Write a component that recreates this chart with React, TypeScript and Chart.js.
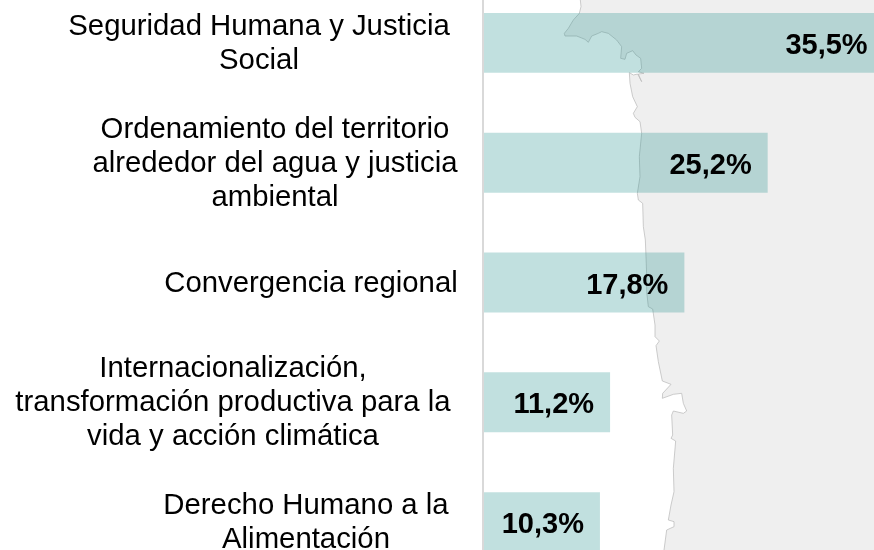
import React, { useEffect, useRef } from "react";
import { Chart, registerables } from "chart.js";

Chart.register(...registerables);

const categories: string[][] = [
  ["Seguridad Humana y Justicia", "Social"],
  ["Ordenamiento del territorio", "alrededor del agua y justicia", "ambiental"],
  ["Convergencia regional"],
  ["Internacionalización,", "transformación productiva para la", "vida y acción climática"],
  ["Derecho Humano a la", "Alimentación"],
];
const values = [35.5, 25.2, 17.8, 11.2, 10.3];
const valueLabels = ["35,5%", "25,2%", "17,8%", "11,2%", "10,3%"];
const labelCentres = [259, 275, 311, 233, 306];

const CANVAS_TOP = -30;
const z1 = [[331,0],[333,20],[328,40],[310,60],[295,85],[283,100],[285,108],[320,108],[345,118],[355,127],[365,108],[385,100],[395,95],[415,100],[440,120],[455,140],[452,175],[465,178],[470,160],[488,152],[498,165],[512,175],[515,205],[505,215],[522,220],[505,222],[515,245],[503,222],[490,225],[478,218],[480,250],[488,290],[502,320],[490,340],[495,352],[510,365],[515,400],[508,470],[510,530],[502,580],[505,600],[518,610],[520,680],[526,720],[528,770],[530,825]];
const z2 = [[530,50],[535,95],[548,102],[555,150],[555,185],[568,198],[558,212],[565,260],[577,318],[603,328],[578,355],[577,370],[610,358],[635,355],[640,385],[650,408],[640,415],[610,408],[605,420],[608,480],[603,490],[617,498],[610,580],[612,650],[603,690],[595,735],[612,740],[612,755],[590,765],[582,825]];
const coast = [
  ...z1.map(([x, y]) => [470 + x / 3, y / 3]),
  ...z2.map(([x, y]) => [470 + x / 3, 275 + y / 3]),
];

const backdrop = {
  id: "backdrop",
  beforeDatasetsDraw(chart: any) {
    const c = chart.ctx;
    c.save();
    c.translate(0, -CANVAS_TOP);
    c.beginPath();
    coast.forEach(([x, y], i) => (i ? c.lineTo(x, y) : c.moveTo(x, y)));
    c.lineTo(coast[coast.length - 1][0], 600);
    c.lineTo(940, 600);
    c.lineTo(940, -40);
    c.lineTo(coast[0][0], -40);
    c.closePath();
    c.fillStyle = "#efefef";
    c.fill();
    c.beginPath();
    coast.forEach(([x, y], i) => (i ? c.lineTo(x, y) : c.moveTo(x, y)));
    c.strokeStyle = "#b8b8b8";
    c.lineWidth = 0.7;
    c.stroke();
    c.fillStyle = "#d9d9d9";
    c.fillRect(chart.chartArea.left - 2, -40, 2, 640);
    c.restore();
  },
};

const texts = {
  id: "texts",
  afterDatasetsDraw(chart: any) {
    const c = chart.ctx;
    const y = chart.scales.y;
    const x = chart.scales.x;
    c.save();
    c.fillStyle = "#000";
    c.textBaseline = "alphabetic";
    c.textAlign = "center";
    c.font = "29.33px 'Liberation Sans'";
    categories.forEach((lines, i) => {
      const cy = y.getPixelForTick(i);
      lines.forEach((t, j) => {
        c.fillText(t, labelCentres[i], cy + 9 + (j - (lines.length - 1) / 2) * 34);
      });
    });
    c.textAlign = "right";
    c.font = "bold 29px 'Liberation Sans'";
    valueLabels.forEach((t, i) => {
      c.fillText(t, x.getPixelForValue(values[i]) - 16, y.getPixelForTick(i) + 11);
    });
    c.restore();
  },
};

export default function App() {
  const ref = useRef<HTMLCanvasElement>(null);
  useEffect(() => {
    document.body.style.margin = "0";
    const chart = new Chart(ref.current!, {
      type: "bar",
      data: {
        labels: categories.map((l) => l.join(" ")),
        datasets: [
          {
            data: values,
            backgroundColor: "rgba(41,148,145,0.29)",
            borderWidth: 0,
            barPercentage: 0.5,
            categoryPercentage: 1,
          },
        ],
      },
      options: {
        indexAxis: "y",
        responsive: false,
        animation: false,
        layout: { padding: { left: 484, right: 0, top: 13, bottom: 28 } },
        plugins: { legend: { display: false }, tooltip: { enabled: false } },
        scales: {
          x: { display: false, min: 0, max: 38.2 },
          y: {
            ticks: { display: false },
            grid: { display: false, drawTicks: false },
            border: { display: false },
          },
        },
      },
      plugins: [backdrop, texts],
    });
    return () => chart.destroy();
  }, []);
  return (
    <div style={{ position: "relative", width: 874, height: 550, overflow: "hidden" }}>
      <canvas
        ref={ref}
        width={914}
        height={640}
        style={{ position: "absolute", left: 0, top: CANVAS_TOP, width: 914, height: 640 }}
      />
    </div>
  );
}
